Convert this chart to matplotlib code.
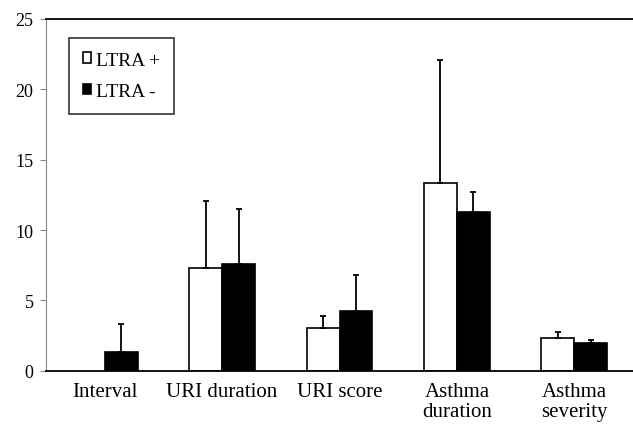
import numpy as np
import matplotlib.pyplot as plt

categories = ["Interval", "URI duration", "URI score", "Asthma\nduration", "Asthma\nseverity"]
ltra_pos = [np.nan, 7.3, 3.0, 13.35, 2.3]
ltra_pos_err = [np.nan, 4.75, 0.9, 8.7, 0.47]
ltra_neg = [1.35, 7.55, 4.25, 11.25, 1.97]
ltra_neg_err = [2.0, 3.95, 2.57, 1.45, 0.24]

plt.rcParams["font.family"] = ["Liberation Serif", "DejaVu Serif"]

fig = plt.figure(figsize=(6.33, 4.27), dpi=100)
ax = fig.add_axes([0.0727, 0.1295, 0.9273, 0.8237])

x = np.arange(len(categories))
w = 0.28
err_kw = dict(ecolor="black", elinewidth=1.3, capsize=2.5, capthick=1.3)

pos_err = [np.zeros(len(x)), ltra_pos_err]
neg_err = [np.zeros(len(x)), ltra_neg_err]
ax.bar(x - w / 2, ltra_pos, w, color="white", edgecolor="black", linewidth=1.2,
       yerr=pos_err, error_kw=err_kw, label="LTRA +")
ax.bar(x + w / 2, ltra_neg, w, color="black", edgecolor="black", linewidth=1.2,
       yerr=neg_err, error_kw=err_kw, label="LTRA -")

ax.set_xlim(-0.5, len(categories) - 0.5)
ax.set_ylim(0, 25)
ax.set_yticks([0, 5, 10, 15, 20, 25])
ax.set_xticks(x)
ax.set_xticklabels(categories, fontsize=15, va="top", linespacing=1.05)
ax.tick_params(axis="x", length=0, pad=8)
ax.tick_params(axis="y", labelsize=13, length=4, color="#888888", direction="out", pad=5)

ax.spines["right"].set_visible(False)
ax.spines["left"].set_color("#888888")
ax.spines["top"].set_linewidth(1.3)
ax.spines["bottom"].set_linewidth(1.3)

leg = ax.legend(loc="upper left", bbox_to_anchor=(0.039, 0.946), fontsize=14,
                frameon=True, fancybox=False, edgecolor="black",
                handlelength=0.45, handleheight=0.45, handletextpad=0.25,
                labelspacing=0.75, borderpad=0.7, borderaxespad=0)
leg.get_frame().set_linewidth(1.2)

fig.savefig("out.png", dpi=100)
